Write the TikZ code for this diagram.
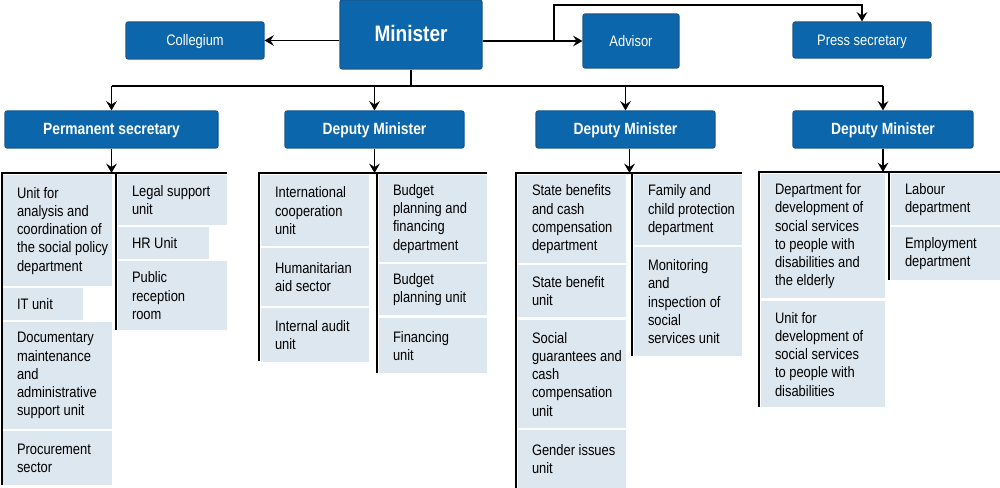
\documentclass[tikz,border=0pt]{standalone}
\usepackage{fontspec}
\setmainfont[FakeStretch=0.85]{Liberation Sans}
\usetikzlibrary{arrows.meta,calc}
\definecolor{boxblue}{RGB}{12,102,172}
\definecolor{boxedge}{RGB}{24,88,142}
\definecolor{unitfill}{RGB}{221,231,239}
\newcommand\lunit[6]{%
  \node[unitbox, anchor=north west, minimum width={(#4-#2)*0.75pt}, minimum height={(#5-#3)*0.75pt}] (#1) at (#2,#3) {};
  \node[unittext, anchor=west] (#1t) at ([xshift=10.3pt]#1.west) {#6};}
\begin{document}
\begin{tikzpicture}[x=0.75pt,y=-0.75pt,
  bluebox/.style={draw=boxedge, line width=0.8pt, fill=boxblue, rounded corners=1.5pt, text=white, inner sep=0pt, text height=0.92em, text depth=0.1em},
  topfont/.style={font=\fontsize{11.4}{13.7}\selectfont},
  headfont/.style={font=\bfseries\fontsize{12.2}{14}\selectfont},
  unitbox/.style={fill=unitfill, inner sep=0pt},
  unittext/.style={inner sep=0pt, align=left, font=\fontsize{11.4}{13.7}\selectfont},
  conn/.style={line width=1.2pt, draw=black},
  arr/.style={conn, -{Stealth[length=7pt,width=8pt,inset=2.5pt]}}]
\useasboundingbox (0,0) rectangle (1000,488);

% top level
\node[bluebox, minimum width=142*0.75pt, minimum height=69*0.75pt, font=\bfseries\fontsize{16.8}{18}\selectfont, text height=1.05em, text depth=0.05em] (min) at (411,34.5) {Minister};
\node[bluebox, topfont, minimum width=138*0.75pt, minimum height=37*0.75pt] (col) at (195,40.5) {Collegium};
\node[bluebox, topfont, minimum width=96*0.75pt, minimum height=54*0.75pt] (adv) at (631,41) {Advisor};
\node[bluebox, topfont, minimum width=138*0.75pt, minimum height=36*0.75pt] (press) at (862,40) {Press secretary};

% second level
\node[bluebox, headfont, minimum width=213*0.75pt, minimum height=37*0.75pt] (ps) at (111.5,129.5) {Permanent secretary};
\node[bluebox, headfont, minimum width=179*0.75pt, minimum height=37*0.75pt] (dm1) at (374.5,129.5) {Deputy Minister};
\node[bluebox, headfont, minimum width=179*0.75pt, minimum height=37*0.75pt] (dm2) at (625.5,129.5) {Deputy Minister};
\node[bluebox, headfont, minimum width=180*0.75pt, minimum height=37*0.75pt] (dm3) at (883,129.5) {Deputy Minister};

% top connectors
\draw[arr] (min.west |- col.east) -- (col.east);
\draw[arr] (min.east |- adv.west) -- (adv.west);
\coordinate (pj) at (554,41);
\coordinate (ptop) at (554,5);
\draw[arr] (pj) -- (ptop) -| (press.north);

\coordinate (bus) at (411,86);
\draw[conn] (min.south) -- (bus);
\draw[conn] (ps.north |- bus) -- (dm3.north |- bus);
\draw[arr] (ps.north |- bus) -- (ps.north);
\draw[arr] (dm1.north |- bus) -- (dm1.north);
\draw[arr] (dm2.north |- bus) -- (dm2.north);
\draw[arr] (dm3.north |- bus) -- (dm3.north);

% group 1
\coordinate (g1l) at (2,173); \coordinate (g1r) at (227,173);
\coordinate (g1b) at (2,485); \coordinate (g1d) at (116,173); \coordinate (g1e) at (116,330);
\draw[arr] (ps.south) -- (ps.south |- g1l);
\draw[conn] (g1r) -- (g1l) -- (g1b);
\draw[conn] (g1d) -- (g1e);
\lunit{a1}{3}{175}{112}{286}{Unit for\\analysis and\\coordination of\\the social policy\\department}
\lunit{a2}{3}{288}{83}{320}{IT unit}
\lunit{a3}{3}{322}{112}{429}{Documentary\\maintenance\\and\\administrative\\support unit}
\lunit{a4}{3}{431}{112}{485}{Procurement\\sector}
\lunit{b1}{118}{175}{227}{225}{Legal support\\unit}
\lunit{b2}{118}{227}{209}{259}{HR Unit}
\lunit{b3}{118}{261}{227}{330}{Public\\reception\\room}

% group 2
\coordinate (g2l) at (259,173); \coordinate (g2r) at (487,173);
\coordinate (g2b) at (259,361); \coordinate (g2d) at (377,173); \coordinate (g2e) at (377,373);
\draw[arr] (dm1.south) -- (dm1.south |- g2l);
\draw[conn] (g2r) -- (g2l) -- (g2b);
\draw[conn] (g2d) -- (g2e);
\lunit{c1}{261}{175}{369}{246}{International\\cooperation\\unit}
\lunit{c2}{261}{248}{369}{306}{Humanitarian\\aid sector}
\lunit{c3}{261}{308}{369}{362}{Internal audit\\unit}
\lunit{d1}{379}{175}{487}{262}{Budget\\planning and\\financing\\department}
\lunit{d2}{379}{264}{487}{315}{Budget\\planning unit}
\lunit{d3}{379}{318}{487}{373}{Financing\\unit}

% group 3
\coordinate (g3l) at (516,173); \coordinate (g3r) at (742,173);
\coordinate (g3b) at (516,488); \coordinate (g3d) at (632,173); \coordinate (g3e) at (632,356);
\draw[arr] ([xshift=3pt]dm2.south) -- ([xshift=3pt]dm2.south |- g3l);
\draw[conn] (g3r) -- (g3l) -- (g3b);
\draw[conn] (g3d) -- (g3e);
\lunit{e1}{518}{175}{626}{263}{State benefits\\and cash\\compensation\\department}
\lunit{e2}{518}{265}{626}{317}{State benefit\\unit}
\lunit{e3}{518}{320}{626}{428}{Social\\guarantees and\\cash\\compensation\\unit}
\lunit{e4}{518}{430}{626}{488}{Gender issues\\unit}
\lunit{f1}{634}{175}{742}{245}{Family and\\child protection\\department}
\lunit{f2}{634}{247}{742}{356}{Monitoring\\and\\inspection of\\social\\services unit}

% group 4
\coordinate (g4l) at (759,172); \coordinate (g4r) at (1000,172);
\coordinate (g4b) at (759,407); \coordinate (g4d) at (889,172); \coordinate (g4e) at (889,280);
\draw[arr] (dm3.south) -- (dm3.south |- g4l);
\draw[conn] (g4r) -- (g4l) -- (g4b);
\draw[conn] (g4d) -- (g4e);
\lunit{g1}{761}{174}{885}{298}{Department for\\development of\\social services\\to people with\\disabilities and\\the elderly}
\lunit{g2}{761}{301}{885}{407}{Unit for\\development of\\social services\\to people with\\disabilities}
\lunit{h1}{891}{174}{1000}{225}{Labour\\department}
\lunit{h2}{891}{227}{1000}{280}{Employment\\department}
\end{tikzpicture}
\end{document}
